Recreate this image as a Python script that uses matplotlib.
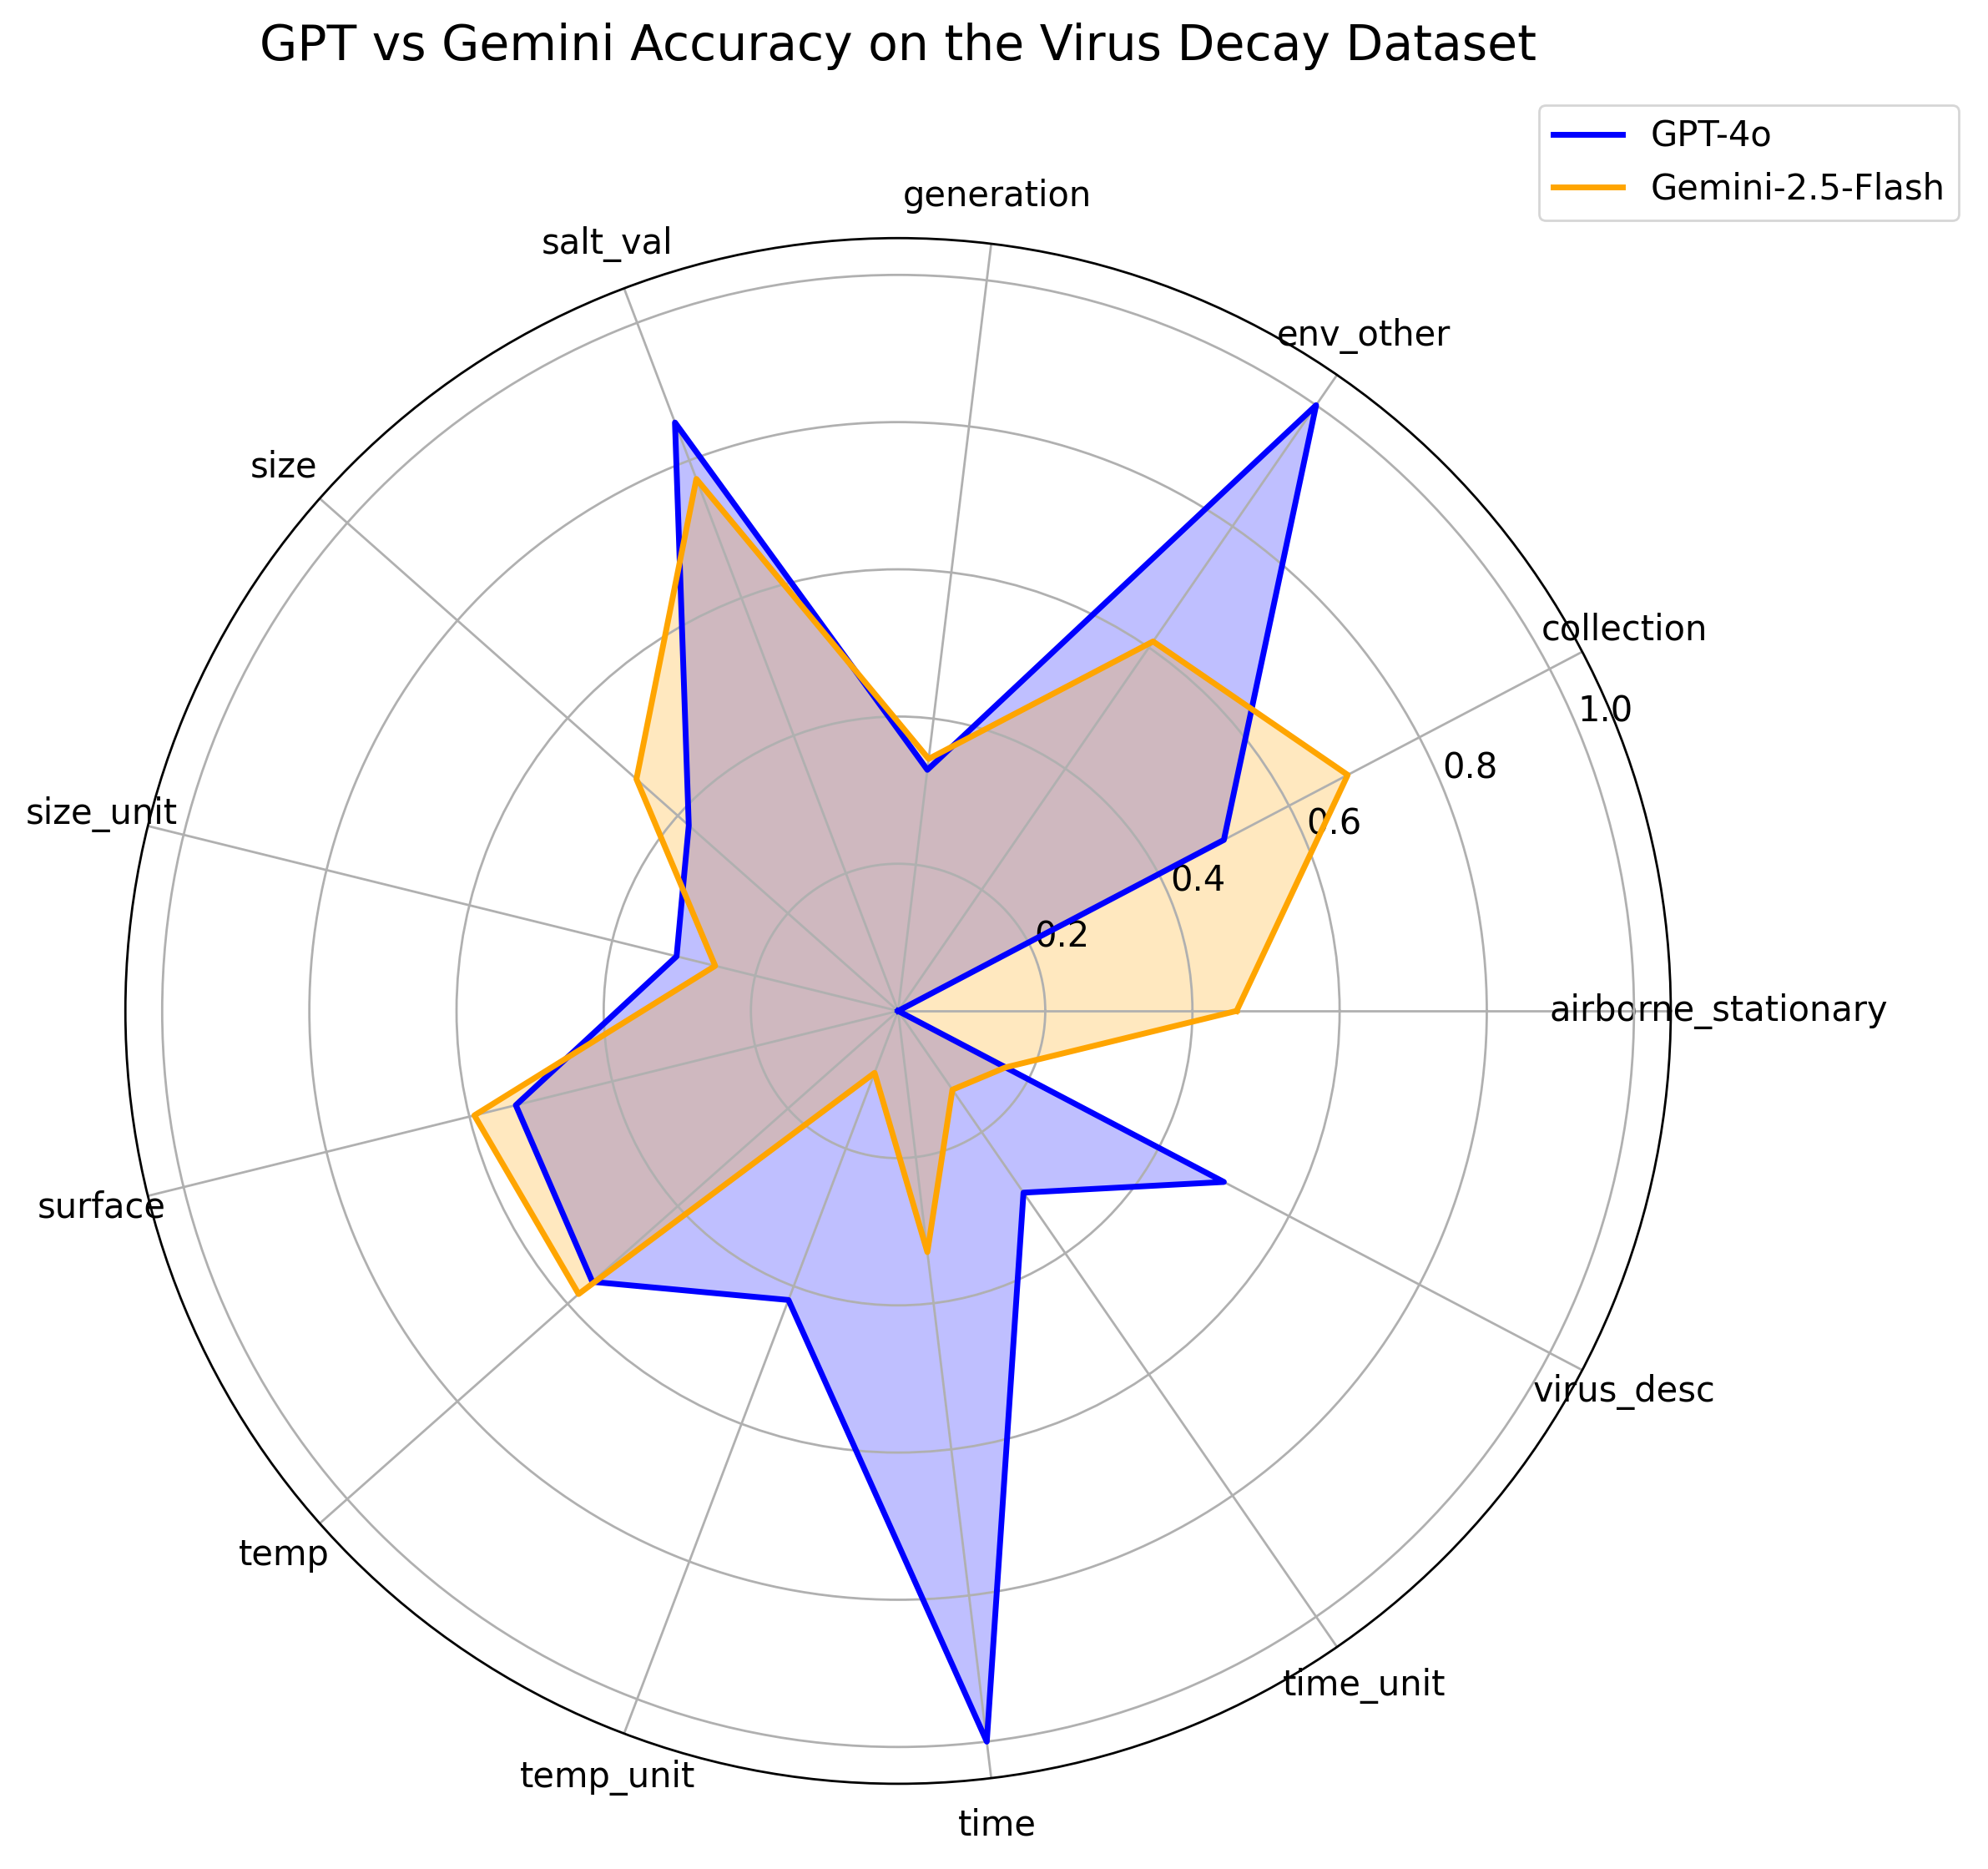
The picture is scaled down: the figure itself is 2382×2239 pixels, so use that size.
import numpy as np
import matplotlib
matplotlib.use("Agg")
import matplotlib.pyplot as plt

categories = ["airborne_stationary", "collection", "env_other", "generation",
              "salt_val", "size", "size_unit", "surface", "temp", "temp_unit",
              "time", "time_unit", "virus_desc"]
gpt_4o = [0.00, 0.50, 1.00, 0.33, 0.855, 0.38, 0.31, 0.535, 0.555, 0.42,
          1.00, 0.30, 0.50]
gemini_flash = [0.46, 0.69, 0.61, 0.345, 0.773, 0.475, 0.256, 0.593, 0.58,
                0.09, 0.33, 0.13, 0.165]
r_ticks = [0.2, 0.4, 0.6, 0.8, 1.0]

plt.rcParams["grid.linewidth"] = 1.0
plt.rcParams["axes.linewidth"] = 1.0

n = len(categories)
angles = np.linspace(0, 2 * np.pi, n, endpoint=False).tolist()
angles_c = angles + angles[:1]
g = gpt_4o + gpt_4o[:1]
m = gemini_flash + gemini_flash[:1]

fig = plt.figure(figsize=(11.91, 11.195), dpi=200)
ax = fig.add_axes([0.063, 0.0456, 0.7775, 0.827], projection="polar")

ax.plot(angles_c, g, color="blue", linewidth=2.5, label="GPT-4o")
ax.fill(angles_c, g, color="blue", alpha=0.25)
ax.plot(angles_c, m, color="orange", linewidth=2.5, label="Gemini-2.5-Flash")
ax.fill(angles_c, m, color="orange", alpha=0.25)

ax.set_xticks(angles)
ax.set_xticklabels(categories, fontsize=15)
ax.tick_params(axis="x", pad=10)
ax.set_yticks(r_ticks)
ax.set_yticklabels([f"{t:.1f}" for t in r_ticks], fontsize=15)
ax.set_ylim(0, 1.05)

fig.text(0.4517, 0.975, "GPT vs Gemini Accuracy on the Virus Decay Dataset",
         ha="center", va="center", fontsize=21)
fig.legend(loc="upper right", bbox_to_anchor=(0.994, 0.953),
           bbox_transform=fig.transFigure, fontsize=15)

fig.savefig("out.png", dpi=200)
